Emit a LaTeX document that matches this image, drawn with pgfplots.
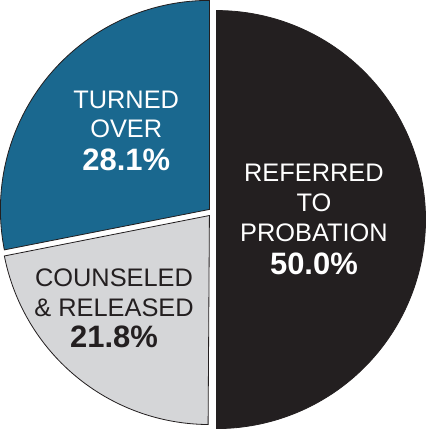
\documentclass[border=0pt]{standalone}
\usepackage{pgfplots}
\pgfplotsset{compat=1.18}
\usepackage{fontspec}
\setmainfont{Liberation Sans}
\definecolor{pblack}{HTML}{231F20}
\definecolor{pblue}{HTML}{1A688F}
\definecolor{pgrey}{HTML}{D5D6D8}
\begin{document}
\begin{tikzpicture}
% shares (percent)
\def\vRef{50.0}
\def\vTurn{28.1}
\def\vCoun{21.8}
\pgfmathsetmacro\aA{-90}
\pgfmathsetmacro\aB{\aA+3.6*\vRef}
\pgfmathsetmacro\aC{\aB+3.6*\vTurn}
\pgfmathsetmacro\aD{\aC+3.6*\vCoun}
\begin{axis}[scale only axis, width=425pt, height=429pt,
  xmin=0, xmax=425, ymin=0, ymax=429, hide axis, clip=false,
  samples=150, variable=\t]
\addplot[draw=pblack, fill=pblack, line width=0.8pt, domain=\aA:\aB]
  ({220+206*cos(\t)},{208+206*sin(\t)}) -- cycle;
\addplot[draw=pblack, fill=pblue, line width=0.8pt, domain=\aB:\aC]
  ({213+206*cos(\t)},{218+206*sin(\t)}) -- (axis cs:213,218) -- cycle;
\addplot[draw=pblack, fill=pgrey, line width=0.8pt, domain=\aC:\aD]
  ({213+206*cos(\t)},{212+206*sin(\t)}) -- (axis cs:213,212) -- cycle;
% labels
\begin{scope}[every node/.style={anchor=base, inner sep=0pt, font=\fontsize{25}{29}\selectfont}]
\node[white] at (axis cs:131,317) {TURNED};
\node[white] at (axis cs:131,289) {OVER};
\node[white, font=\fontsize{30.5}{34}\selectfont\bfseries] at (axis cs:131,256) {\vTurn\%};
\node[white] at (axis cs:316,246) {REFERRED};
\node[white] at (axis cs:316,216) {TO};
\node[white] at (axis cs:316,186) {PROBATION};
\node[white, font=\fontsize{30.5}{34}\selectfont\bfseries] at (axis cs:316,154) {\vRef\%};
\node[pblack] at (axis cs:119,142) {COUNSELED};
\node[pblack] at (axis cs:119,112) {\& RELEASED};
\node[pblack, font=\fontsize{30.5}{34}\selectfont\bfseries] at (axis cs:119,82) {\vCoun\%};
\end{scope}
\end{axis}
\end{tikzpicture}
\end{document}
